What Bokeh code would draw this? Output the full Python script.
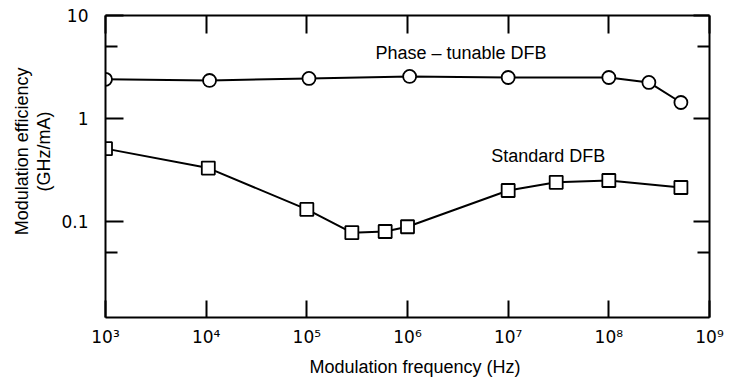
from bokeh.plotting import figure
from bokeh.models import LogAxis, FixedTicker, CustomJSTickFormatter, Label
from bokeh.embed import file_html
from bokeh.resources import INLINE

# ---- data ----
phase_freq = [1e3, 1.08e4, 1.05e5, 1.05e6, 1e7, 1e8, 2.5e8, 5.2e8]
phase_eff = [2.4, 2.34, 2.45, 2.56, 2.5, 2.5, 2.24, 1.43]
std_freq = [1e3, 1.05e4, 1e5, 2.8e5, 6e5, 1e6, 1e7, 3e7, 1e8, 5.2e8]
std_eff = [0.51, 0.33, 0.131, 0.078, 0.080, 0.089, 0.20, 0.24, 0.25, 0.214]

x_ticks = [1e3, 1e4, 1e5, 1e6, 1e7, 1e8, 1e9]
x_tick_labels = ["10\u00b3", "10\u2074", "10\u2075", "10\u2076", "10\u2077", "10\u2078", "10\u2079"]
y_ticks = [0.1, 1, 10]
y_minor_ticks = [0.05, 5]
y_tick_labels = ["0.1", "1", "10"]

NB = "\u00a0"
x_title = NB * 3 + "Modulation frequency (Hz)"
y_title = NB * 6 + "Modulation efficiency\n" + NB * 6 + "(GHz/mA)"
phase_name = "Phase \u2013 tunable DFB"
std_name = "Standard DFB"

FONT = "Liberation Sans"
TICK_FONT = "DejaVu Sans"

p = figure(width=728, height=381, x_axis_type="log", y_axis_type="log",
           x_range=(1e3, 1e9), y_range=(0.0117, 10),
           output_backend="svg", toolbar_location=None,
           min_border_left=105, min_border_right=19, min_border_top=15, min_border_bottom=64)
p.grid.visible = False
p.outline_line_color = None
p.background_fill_color = "white"
p.border_fill_color = "white"

js = ("const i = tv.findIndex(t => Math.abs(Math.log10(t) - Math.log10(tick)) < 1e-6);"
      "return i >= 0 ? tl[i] : ' ';")
xfmt = CustomJSTickFormatter(args=dict(tv=x_ticks, tl=x_tick_labels), code=js)
yfmt = CustomJSTickFormatter(args=dict(tv=y_ticks, tl=y_tick_labels), code=js)
blank = CustomJSTickFormatter(code="return ' ';")

def style(ax, tick_in, minor_in=0):
    ax.axis_line_color = "black"
    ax.axis_line_width = 2
    ax.major_tick_line_color = "black"
    ax.major_tick_line_width = 2
    ax.major_tick_in = tick_in
    ax.major_tick_out = 0
    ax.minor_tick_line_color = "black" if minor_in else None
    ax.minor_tick_line_width = 2
    ax.minor_tick_in = minor_in
    ax.minor_tick_out = 0
    ax.major_label_text_font = TICK_FONT
    ax.major_label_text_color = "black"
    ax.axis_label_text_font = FONT
    ax.axis_label_text_font_style = "normal"
    ax.axis_label_text_color = "black"
    ax.axis_label_text_font_size = "18px"

xa = p.xaxis[0]
xa.ticker = FixedTicker(ticks=x_ticks)
xa.formatter = xfmt
style(xa, 17)
xa.major_label_text_font_size = "17px"
xa.major_label_standoff = 9
xa.axis_label = x_title
xa.axis_label_standoff = 7

ya = p.yaxis[0]
ya.ticker = FixedTicker(ticks=y_ticks, minor_ticks=y_minor_ticks)
ya.formatter = yfmt
style(ya, 18, 12)
ya.major_label_text_font_size = "17px"
ya.major_label_standoff = 17
ya.axis_label = y_title
ya.axis_label_standoff = 4
ya.axis_label_text_line_height = 1.1

top = LogAxis(ticker=FixedTicker(ticks=x_ticks), formatter=blank)
style(top, 18)
top.major_label_text_font_size = "1px"
top.major_label_standoff = 0
p.add_layout(top, "above")

right = LogAxis(ticker=FixedTicker(ticks=y_ticks, minor_ticks=y_minor_ticks), formatter=blank)
style(right, 16, 12)
right.major_label_text_font_size = "1px"
right.major_label_standoff = 0
p.add_layout(right, "right")

p.line(phase_freq, phase_eff, line_color="black", line_width=2)
p.line(std_freq, std_eff, line_color="black", line_width=2)
p.scatter(phase_freq, phase_eff, marker="circle", size=13, fill_color="white",
          line_color="black", line_width=1.8)
p.scatter(std_freq, std_eff, marker="square", size=13, fill_color="white",
          line_color="black", line_width=1.8)

p.add_layout(Label(x=3.4e6, y=4.3, text=phase_name, text_align="center",
                   text_baseline="middle", text_font=FONT, text_font_size="18px",
                   text_color="black"))
p.add_layout(Label(x=2.5e7, y=0.43, text=std_name, text_align="center",
                   text_baseline="middle", text_font=FONT, text_font_size="18px",
                   text_color="black"))

open("out.html", "w").write(file_html(p, INLINE))
